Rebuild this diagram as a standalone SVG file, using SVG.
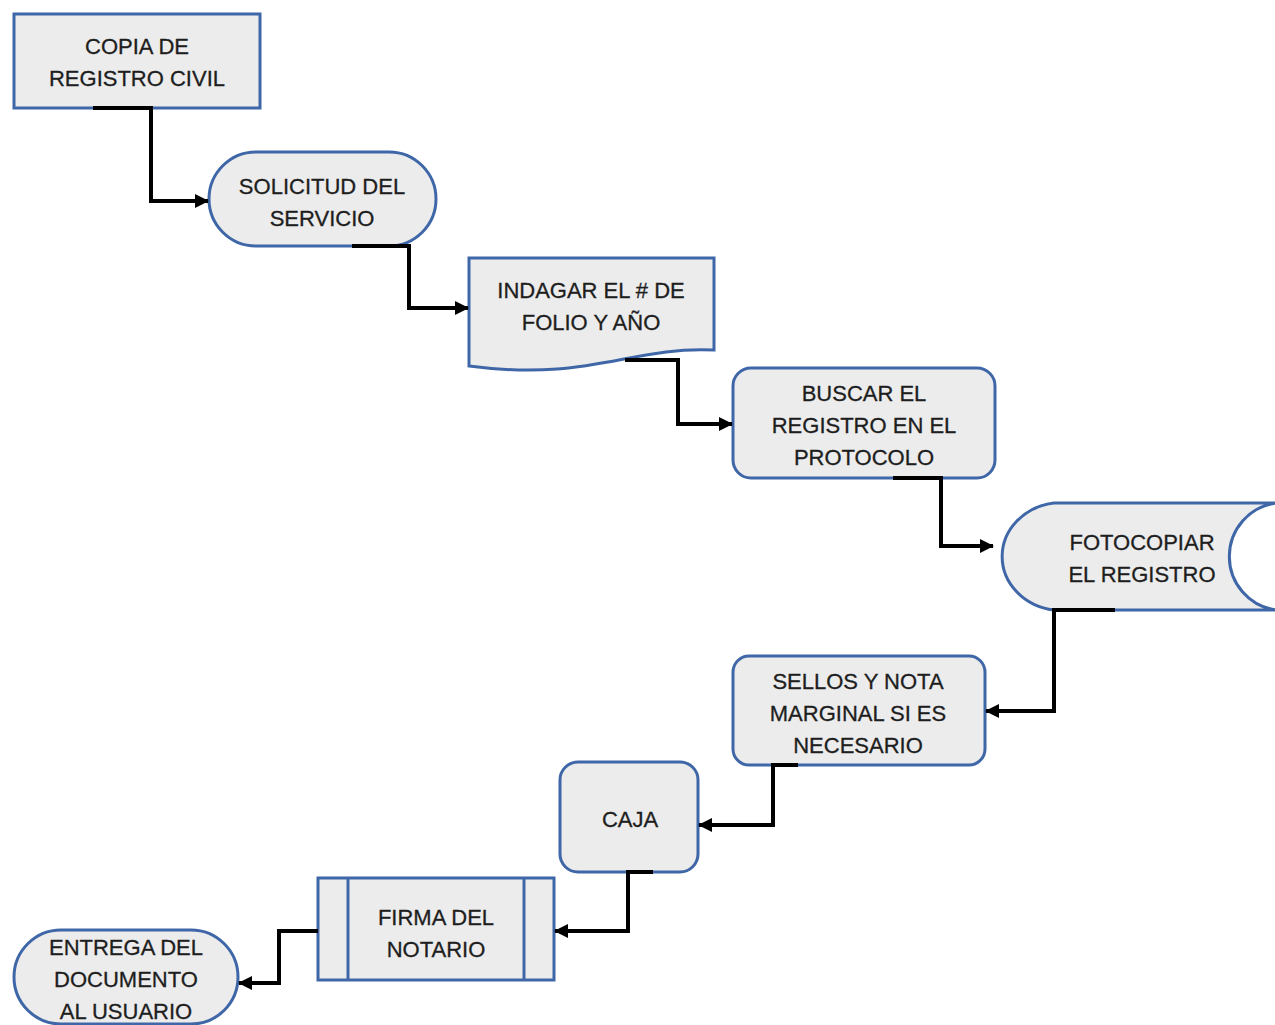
<svg xmlns="http://www.w3.org/2000/svg" width="1275" height="1025" viewBox="0 0 1275 1025">
<defs>
<style>
.n{fill:#ececec;stroke:#3f67a8;stroke-width:3}
.t{font-family:"Liberation Sans",Arial,sans-serif;font-size:22px;fill:#1e1e1e;text-anchor:middle;stroke:#1e1e1e;stroke-width:0.3}
.c{fill:none;stroke:#000;stroke-width:4;stroke-linejoin:miter}
</style>
<marker id="ah" viewBox="0 0 14 14" refX="13" refY="7" markerWidth="14" markerHeight="14" markerUnits="userSpaceOnUse" orient="auto">
<path d="M0,0 L14,7 L0,14 Z" fill="#000"/>
</marker>
</defs>
<rect width="1275" height="1025" fill="#fff"/>
<g id="n1">
<rect class="n" x="14" y="14" width="246" height="94"/>
<text class="t" x="137" y="54">COPIA DE</text>
<text class="t" x="137" y="86">REGISTRO CIVIL</text>
</g>
<g id="n2">
<rect class="n" x="209" y="152" width="227" height="94" rx="47"/>
<text class="t" x="322" y="194">SOLICITUD DEL</text>
<text class="t" x="322" y="226">SERVICIO</text>
</g>
<g id="n3">
<path class="n" d="M469,258 H714 V350 C630,346 590,382 469,366 Z"/>
<text class="t" x="591" y="298">INDAGAR EL # DE</text>
<text class="t" x="591" y="330">FOLIO Y AÑO</text>
</g>
<g id="n4">
<rect class="n" x="733" y="368" width="262" height="110" rx="18"/>
<text class="t" x="864" y="401">BUSCAR EL</text>
<text class="t" x="864" y="433">REGISTRO EN EL</text>
<text class="t" x="864" y="465">PROTOCOLO</text>
</g>
<g id="n5">
<path class="n" d="M1054,503 H1276 A54,54 0 0 0 1276,610 H1054 A60,54 0 0 1 1054,503 Z"/>
<text class="t" x="1142" y="550">FOTOCOPIAR</text>
<text class="t" x="1142" y="582">EL REGISTRO</text>
</g>
<g id="n6">
<rect class="n" x="733" y="656" width="252" height="109" rx="16"/>
<text class="t" x="858" y="689">SELLOS Y NOTA</text>
<text class="t" x="858" y="721">MARGINAL SI ES</text>
<text class="t" x="858" y="753">NECESARIO</text>
</g>
<g id="n7">
<rect class="n" x="560" y="762" width="138" height="110" rx="18"/>
<text class="t" x="630" y="827">CAJA</text>
</g>
<g id="n8">
<rect class="n" x="318" y="878" width="236" height="102"/>
<line class="n" x1="348" y1="878" x2="348" y2="980"/>
<line class="n" x1="524" y1="878" x2="524" y2="980"/>
<text class="t" x="436" y="925">FIRMA DEL</text>
<text class="t" x="436" y="957">NOTARIO</text>
</g>
<g id="n9">
<rect class="n" x="14" y="930" width="224" height="94" rx="47"/>
<text class="t" x="126" y="955">ENTREGA DEL</text>
<text class="t" x="126" y="987">DOCUMENTO</text>
<text class="t" x="126" y="1019">AL USUARIO</text>
</g>
<g id="connectors">
<path class="c" marker-end="url(#ah)" d="M93,108 H151 V201 H208"/>
<path class="c" marker-end="url(#ah)" d="M352,246 H409 V308 H468"/>
<path class="c" marker-end="url(#ah)" d="M625,360 H678 V424 H732"/>
<path class="c" marker-end="url(#ah)" d="M893,478 H941 V546 H993"/>
<path class="c" marker-end="url(#ah)" d="M1115,610 H1054 V711 H986"/>
<path class="c" marker-end="url(#ah)" d="M798,765 H773 V825 H699"/>
<path class="c" marker-end="url(#ah)" d="M653,872 H628 V931 H555"/>
<path class="c" marker-end="url(#ah)" d="M318,931 H279 V983 H239"/>
</g>
</svg>
